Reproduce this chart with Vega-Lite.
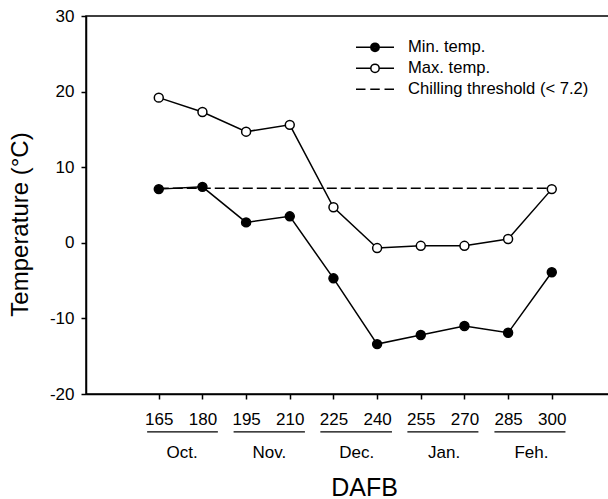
{
  "$schema": "https://vega.github.io/schema/vega-lite/v6.json",
  "width": 524,
  "height": 378,
  "autosize": {"type": "none"},
  "padding": {"left": 86, "top": 16, "right": 0, "bottom": 105},
  "background": "white",
  "config": {
    "font": "Liberation Sans",
    "view": {"stroke": "black", "strokeWidth": 1.5},
    "axis": {"domainColor": "black", "domainWidth": 1.5, "tickColor": "black", "tickWidth": 1.5, "labelColor": "black", "titleColor": "black", "grid": false, "labelFont": "Liberation Sans", "titleFont": "Liberation Sans", "titleFontWeight": "normal"},
    "legend": {"labelFont": "Liberation Sans"}
  },
  "datasets": {
    "temps": [
      {"day": 165, "temp": 7.1, "series": "Min. temp."},
      {"day": 180, "temp": 7.4, "series": "Min. temp."},
      {"day": 195, "temp": 2.7, "series": "Min. temp."},
      {"day": 210, "temp": 3.5, "series": "Min. temp."},
      {"day": 225, "temp": -4.7, "series": "Min. temp."},
      {"day": 240, "temp": -13.4, "series": "Min. temp."},
      {"day": 255, "temp": -12.2, "series": "Min. temp."},
      {"day": 270, "temp": -11.0, "series": "Min. temp."},
      {"day": 285, "temp": -11.9, "series": "Min. temp."},
      {"day": 300, "temp": -3.9, "series": "Min. temp."},
      {"day": 165, "temp": 19.2, "series": "Max. temp."},
      {"day": 180, "temp": 17.3, "series": "Max. temp."},
      {"day": 195, "temp": 14.7, "series": "Max. temp."},
      {"day": 210, "temp": 15.6, "series": "Max. temp."},
      {"day": 225, "temp": 4.7, "series": "Max. temp."},
      {"day": 240, "temp": -0.7, "series": "Max. temp."},
      {"day": 255, "temp": -0.4, "series": "Max. temp."},
      {"day": 270, "temp": -0.4, "series": "Max. temp."},
      {"day": 285, "temp": 0.5, "series": "Max. temp."},
      {"day": 300, "temp": 7.1, "series": "Max. temp."}
    ],
    "threshold": [
      {"start": 165, "end": 300, "temp": 7.2, "series": "Chilling threshold (< 7.2)"}
    ],
    "months": [
      {"month": "Oct.", "start": 161, "end": 185.3, "mid": 173},
      {"month": "Nov.", "start": 190.7, "end": 215.2, "mid": 203},
      {"month": "Dec.", "start": 220.5, "end": 245.1, "mid": 233},
      {"month": "Jan.", "start": 250.4, "end": 274.8, "mid": 263},
      {"month": "Feh.", "start": 280.3, "end": 304.7, "mid": 293}
    ]
  },
  "layer": [
    {
      "data": {"name": "threshold"},
      "mark": {"type": "rule", "color": "black", "strokeWidth": 1.5, "strokeDash": [10, 4]},
      "encoding": {
        "x": {"field": "start", "type": "quantitative", "scale": {"domain": [140, 320], "nice": false, "zero": false},
          "axis": {"values": [165, 180, 195, 210, 225, 240, 255, 270, 285, 300], "labelFontSize": 17, "tickSize": 5, "labelPadding": 12, "title": "DAFB", "titleFontSize": 25, "titleX": 278, "titleY": 101, "titleAlign": "center", "titleBaseline": "alphabetic", "labelFlush": false}},
        "x2": {"field": "end"},
        "y": {"field": "temp", "type": "quantitative", "scale": {"domain": [-20, 30], "nice": false, "zero": false},
          "axis": {"values": [-20, -10, 0, 10, 20, 30], "labelExpr": "replace(datum.label, '−', '-')", "labelFontSize": 17, "tickSize": 5, "labelPadding": 7, "title": "Temperature (°C)", "titleFontSize": 24, "titleX": -59, "titleY": 208, "titleAlign": "center", "titleBaseline": "alphabetic", "titleAngle": -90, "labelFlush": false}}
      }
    },
    {
      "data": {"name": "temps"},
      "mark": {"type": "line", "color": "black", "strokeWidth": 1.5},
      "encoding": {
        "x": {"field": "day", "type": "quantitative"},
        "y": {"field": "temp", "type": "quantitative"},
        "detail": {"field": "series"}
      }
    },
    {
      "data": {"name": "temps"},
      "mark": {"type": "point", "filled": true, "stroke": "black", "strokeWidth": 1.5, "size": 80, "opacity": 1},
      "encoding": {
        "x": {"field": "day", "type": "quantitative"},
        "y": {"field": "temp", "type": "quantitative"},
        "fill": {"condition": {"test": "datum.series === 'Min. temp.'", "value": "black"}, "value": "white"}
      }
    },
    {
      "data": {"name": "temps"},
      "mark": {"type": "point", "filled": false, "color": "black", "strokeWidth": 1.5, "opacity": 0},
      "encoding": {
        "x": {"field": "day", "type": "quantitative"},
        "y": {"field": "temp", "type": "quantitative"},
        "shape": {"field": "series", "type": "nominal",
          "scale": {"domain": ["Min. temp.", "Max. temp.", "Chilling threshold (< 7.2)"],
            "range": ["M-1,0H-0.22M0.22,0H1M-0.22,0A0.22,0.22,0,1,1,0.22,0A0.22,0.22,0,1,1,-0.22,0M-0.17,0A0.17,0.17,0,1,1,0.17,0A0.17,0.17,0,1,1,-0.17,0M-0.12,0A0.12,0.12,0,1,1,0.12,0A0.12,0.12,0,1,1,-0.12,0M-0.07,0A0.07,0.07,0,1,1,0.07,0A0.07,0.07,0,1,1,-0.07,0M-0.03,0A0.03,0.03,0,1,1,0.03,0A0.03,0.03,0,1,1,-0.03,0", "M-1,0H-0.22M0.22,0H1M-0.22,0A0.22,0.22,0,1,1,0.22,0A0.22,0.22,0,1,1,-0.22,0Z", "M-1,0H-0.5M-0.25,0H0.25M0.5,0H1"]},
          "legend": {"title": null, "orient": "none", "legendX": 269, "legendY": 21, "padding": 0, "symbolSize": 1444, "clipHeight": 20.7, "labelFontSize": 16.6, "labelOffset": 13, "labelColor": "black", "labelLimit": 400, "rowPadding": 0,
            "encode": {"symbols": {"update": {"stroke": {"value": "black"}, "strokeWidth": {"value": 1.5}, "opacity": {"value": 1}, "strokeOpacity": {"value": 1}}}}}}
      }
    },
    {
      "data": {"name": "months"},
      "mark": {"type": "rule", "color": "black", "strokeWidth": 1.2},
      "encoding": {
        "x": {"field": "start", "type": "quantitative"},
        "x2": {"field": "end"},
        "y": {"datum": -25, "type": "quantitative"}
      }
    },
    {
      "data": {"name": "months"},
      "mark": {"type": "text", "fontSize": 17, "color": "black", "baseline": "alphabetic", "align": "center"},
      "encoding": {
        "x": {"field": "mid", "type": "quantitative"},
        "y": {"datum": -28.4, "type": "quantitative"},
        "text": {"field": "month"}
      }
    }
  ]
}
